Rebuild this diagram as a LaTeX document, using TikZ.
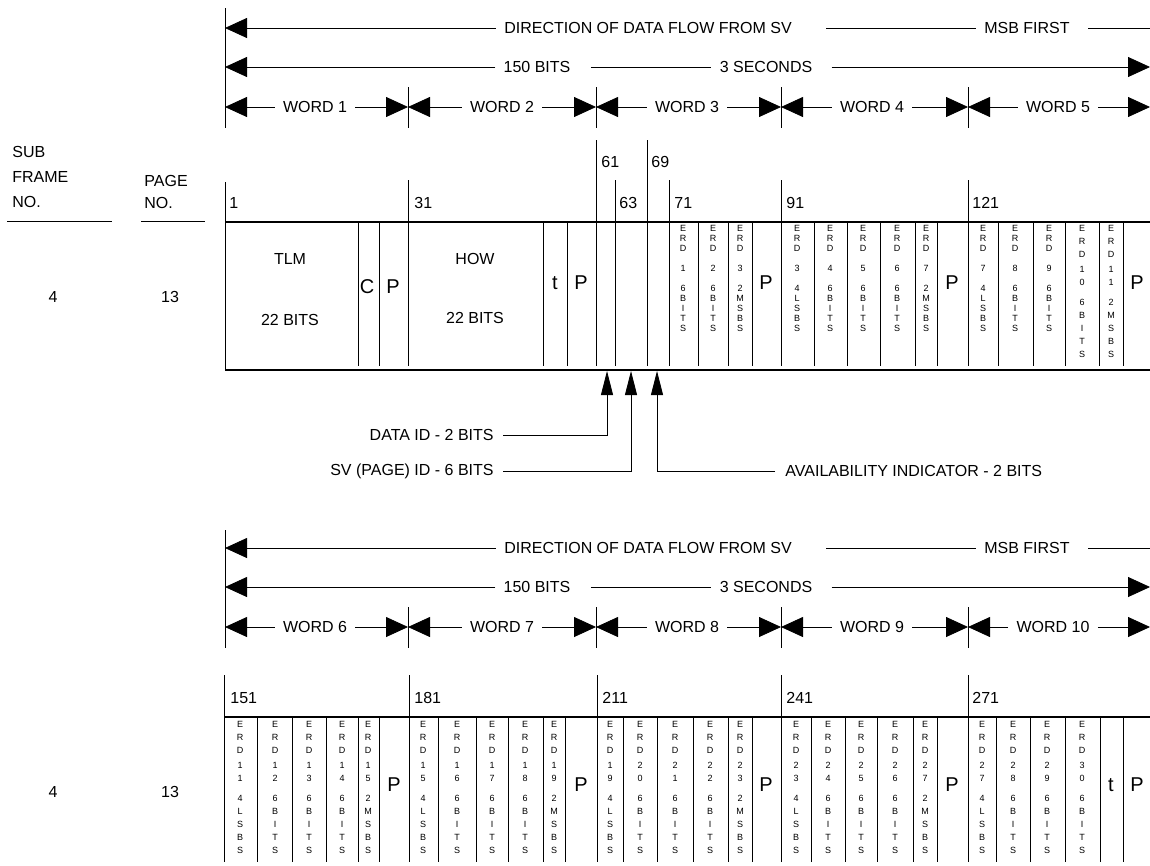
\documentclass[tikz,border=0pt]{standalone}
\usepackage{fontspec}
\setmainfont{Liberation Sans}
\usetikzlibrary{arrows.meta}

\newcommand{\sixb}{6\\B\\I\\T\\S}
\newcommand{\lsb}{4\\L\\S\\B\\S}
\newcommand{\msb}{2\\M\\S\\B\\S}
\newcommand{\erdone}[2]{E\\R\\D\\[10pt]#1\\[10pt]#2}
\newcommand{\erdtwo}[3]{E\\R\\D\\[2pt]#1\\#2\\[7pt]#3}

\tikzset{
  lbl/.style={inner xsep=8pt, inner ysep=0pt},
  num/.style={anchor=west, inner sep=0pt},
  big/.style={font=\fontsize{20}{24}\selectfont, inner sep=0pt},
  erd/.style={anchor=north, inner sep=0pt, align=center, font=\fontsize{9}{10}\selectfont},
  erdd/.style={erd, font=\fontsize{9}{13}\selectfont},
  bigarr/.style={-{Triangle[length=22pt,width=20pt]}},
  uparr/.style={-{Triangle[length=24pt,width=12pt]}},
  rule/.style={line width=1.2pt},
}

\begin{document}
\begin{tikzpicture}[x=1pt,y=-1pt,font=\fontsize{16}{19}\selectfont,line width=0.8pt]
  \useasboundingbox (0,0) rectangle (1150,865);

  % words 1 to 5
  \coordinate (tl) at (225,8); \coordinate (bl) at (225,128);
  \draw (tl) -- (bl);
  \node[lbl] (dir) at (648,28) {DIRECTION OF DATA FLOW FROM SV};
  \node[lbl] (msb) at (1027,28) {MSB FIRST};
  \coordinate (re) at (1150,28);
  \draw[bigarr] (dir.west) -- (dir.west -| tl);
  \draw ([xshift=26pt]dir.east) -- (msb.west);
  \draw ([xshift=10pt]msb.east) -- (re);
  \node[lbl] (nb) at (537,67) {150 BITS};
  \node[lbl] (sec) at (766,67) {3 SECONDS};
  \draw[bigarr] (nb.west) -- (nb.west -| tl);
  \draw ([xshift=12pt]nb.east) -- (sec.west);
  \draw[bigarr] ([xshift=11pt]sec.east) -- (sec.east -| re);
  \coordinate (k1) at (408,87); \coordinate (k2) at (596,87);
  \coordinate (k3) at (781,87); \coordinate (k4) at (968,87);
  \foreach \k in {k1,k2,k3,k4} \draw (\k) -- ++(0,41);
  \node[lbl] (w1) at (315,107) {WORD 1}; \node[lbl] (w2) at (502,107) {WORD 2};
  \node[lbl] (w3) at (687,107) {WORD 3}; \node[lbl] (w4) at (872,107) {WORD 4};
  \node[lbl] (w5) at (1058,107) {WORD 5};
  \foreach \w/\a/\b in {w1/tl/k1,w2/k1/k2,w3/k2/k3,w4/k3/k4,w5/k4/re}
    {\draw[bigarr] (\w.west) -- (\w.west -| \a); \draw[bigarr] (\w.east) -- (\w.east -| \b);}

  % subframe 4, page 13, words 1 to 5
  \node[anchor=west, align=left, inner sep=0pt, font=\fontsize{16}{25}\selectfont] (sf) at (12,177) {SUB\\FRAME\\NO.};
  \node[anchor=west, align=left, inner sep=0pt, font=\fontsize{16}{22}\selectfont] (pg) at (144,192) {PAGE\\NO.};
  \draw (7,221) -- (112,221); \draw (141,221) -- (205,221);
  \node (sf1) at (53,297) {4}; \node (pg1) at (170,297) {13};
  \draw (225,182) -- (225,370);
  \foreach \x in {408,615,669,781,968} \draw (\x,180) -- (\x,366);
  \foreach \x in {596,647} \draw (\x,140) -- (\x,366);
  \foreach \x in {358,379,543,567,698,728,752,814,847,880,915,937,998,1033,1065,1099,1123}
    \draw (\x,222) -- (\x,366);
  \draw[rule] (225,222) -- (1150,222);
  \draw[rule] (225,370) -- (1150,370);
  \node[num] (n1) at (229,203) {1};   \node[num] (n31) at (414,203) {31};
  \node[num] (n61) at (601,162) {61}; \node[num] (n63) at (619,203) {63};
  \node[num] (n69) at (651,162) {69}; \node[num] (n71) at (674,203) {71};
  \node[num] (n91) at (786,203) {91}; \node[num] (n121) at (972,203) {121};
  \node (tlm) at (290,259) {TLM}; \node (tlmb) at (290,320) {22 BITS};
  \node[big] (c) at (367,287) {C}; \node[big] (pa1) at (393,287) {P};
  \node (how) at (475,259) {HOW}; \node (howb) at (475,318) {22 BITS};
  \node[big] (ta) at (555,283) {t}; \node[big] (pa2) at (581,283) {P};
  \node[big] (pa3) at (766,283) {P}; \node[big] (pa4) at (952,283) {P};
  \node[big] (pa5) at (1137,283) {P};
  \foreach \x/\n/\bt [count=\i] in {683/1/\sixb,713/2/\sixb,740/3/\msb,797/3/\lsb,830/4/\sixb,863/5/\sixb,897/6/\sixb,926/7/\msb,983/7/\lsb,1015/8/\sixb,1049/9/\sixb}
    \node[erd] (ea\i) at (\x,225) {\erdone{\n}{\bt}};
  \node[erdd] (ea12) at (1082,225) {\erdtwo{1}{0}{\sixb}};
  \node[erdd] (ea13) at (1111,225) {\erdtwo{1}{1}{\msb}};

  % pointers into word 3
  \coordinate (a1) at (607,371); \coordinate (a2) at (631,371); \coordinate (a3) at (657,371);
  \node[anchor=east, inner xsep=9pt] (did) at (503,435) {DATA ID - 2 BITS};
  \node[anchor=east, inner xsep=9pt] (svid) at (503,471) {SV (PAGE) ID - 6 BITS};
  \node[anchor=west, inner xsep=10pt] (avl) at (775,471) {AVAILABILITY INDICATOR - 2 BITS};
  \draw[uparr] (did.east) -| (a1);
  \draw[uparr] (svid.east) -| (a2);
  \draw[uparr] (avl.west) -| (a3);

  % words 6 to 10
  \coordinate (tl2) at (225,530); \coordinate (bl2) at (225,648);
  \draw (tl2) -- (bl2);
  \node[lbl] (dir2) at (648,548) {DIRECTION OF DATA FLOW FROM SV};
  \node[lbl] (msb2) at (1027,548) {MSB FIRST};
  \coordinate (re2) at (1150,548);
  \draw[bigarr] (dir2.west) -- (dir2.west -| tl2);
  \draw ([xshift=26pt]dir2.east) -- (msb2.west);
  \draw ([xshift=10pt]msb2.east) -- (re2);
  \node[lbl] (nb2) at (537,587) {150 BITS};
  \node[lbl] (sec2) at (766,587) {3 SECONDS};
  \draw[bigarr] (nb2.west) -- (nb2.west -| tl2);
  \draw ([xshift=12pt]nb2.east) -- (sec2.west);
  \draw[bigarr] ([xshift=11pt]sec2.east) -- (sec2.east -| re2);
  \coordinate (m1) at (408,607); \coordinate (m2) at (596,607);
  \coordinate (m3) at (781,607); \coordinate (m4) at (968,607);
  \foreach \k in {m1,m2,m3,m4} \draw (\k) -- ++(0,41);
  \node[lbl] (w6) at (315,627) {WORD 6}; \node[lbl] (w7) at (502,627) {WORD 7};
  \node[lbl] (w8) at (687,627) {WORD 8}; \node[lbl] (w9) at (872,627) {WORD 9};
  \node[lbl] (w10) at (1053,627) {WORD 10};
  \foreach \w/\a/\b in {w6/tl2/m1,w7/m1/m2,w8/m2/m3,w9/m3/m4,w10/m4/re2}
    {\draw[bigarr] (\w.west) -- (\w.west -| \a); \draw[bigarr] (\w.east) -- (\w.east -| \b);}

  % subframe 4, page 13, words 6 to 10
  \node (sf2) at (53,792) {4}; \node (pg2) at (170,792) {13};
  \foreach \x in {224,409,597,781,968} \draw (\x,675) -- (\x,862);
  \foreach \x in {257,292,326,358,379,438,476,508,543,565,623,657,693,728,752,811,845,877,913,937,996,1030,1065,1100,1123}
    \draw (\x,717) -- (\x,862);
  \draw[rule] (224,717) -- (1150,717);
  \node[num] (n151) at (230,698) {151}; \node[num] (n181) at (414,698) {181};
  \node[num] (n211) at (602,698) {211}; \node[num] (n241) at (786,698) {241};
  \node[num] (n271) at (972,698) {271};
  \foreach \x/\p/\q/\bt [count=\i] in {240/1/1/\lsb,275/1/2/\sixb,309/1/3/\sixb,342/1/4/\sixb,368/1/5/\msb,423/1/5/\lsb,457/1/6/\sixb,492/1/7/\sixb,525/1/8/\sixb,554/1/9/\msb,610/1/9/\lsb,640/2/0/\sixb,675/2/1/\sixb,710/2/2/\sixb,740/2/3/\msb,796/2/3/\lsb,828/2/4/\sixb,861/2/5/\sixb,895/2/6/\sixb,925/2/7/\msb,982/2/7/\lsb,1013/2/8/\sixb,1047/2/9/\sixb,1082/3/0/\sixb}
    \node[erdd] (eb\i) at (\x,721) {\erdtwo{\p}{\q}{\bt}};
  \node[big] (pb1) at (394,785) {P}; \node[big] (pb2) at (581,785) {P};
  \node[big] (pb3) at (766,785) {P}; \node[big] (pb4) at (952,785) {P};
  \node[big] (tb) at (1111,785) {t}; \node[big] (pb5) at (1137,785) {P};
\end{tikzpicture}
\end{document}
